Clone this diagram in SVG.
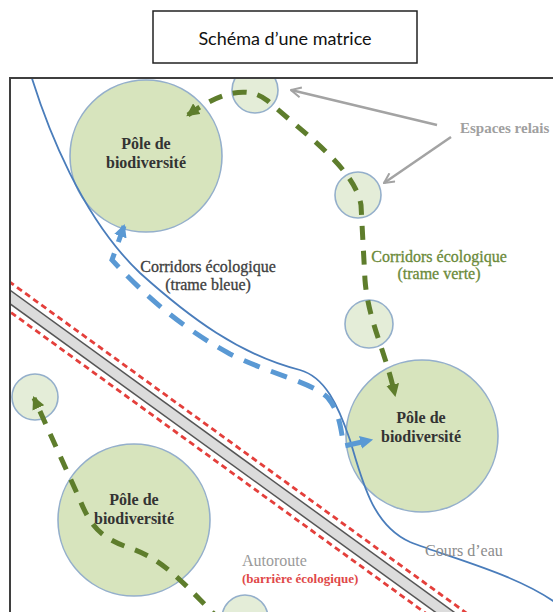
<svg xmlns="http://www.w3.org/2000/svg" width="553" height="612" viewBox="0 0 553 612">
  <style>
    .pole { fill: #d7e4bd; stroke: #94afcb; stroke-width: 1.6; }
    .relais { fill: #e4edd8; stroke: #94afcb; stroke-width: 1.6; }
    .pole-label { font-family: "Liberation Serif", serif; font-weight: bold; font-size: 16px; fill: #333333; text-anchor: middle; }
    .serif { font-family: "Liberation Serif", serif; }
    .trame-verte { fill: none; stroke: #5e7d2c; stroke-width: 5; stroke-dasharray: 14 11; }
    .trame-bleue { fill: none; stroke: #5a99d4; stroke-width: 5; stroke-dasharray: 17 12; }
    .river { fill: none; stroke: #4a7dbb; stroke-width: 1.8; }
    .pointer { fill: none; stroke: #a3a3a3; stroke-width: 2.5; }
    .road-edge { stroke: #555555; stroke-width: 1.5; }
    .barrier { stroke: #e43f3b; stroke-width: 2.8; stroke-dasharray: 6 4; }
  </style>
  <defs>
    <clipPath id="map">
      <rect x="11" y="79" width="560" height="560"/>
    </clipPath>
    <marker id="arrow-green" viewBox="0 0 12 12" refX="10" refY="6" markerWidth="13" markerHeight="13" markerUnits="userSpaceOnUse" orient="auto-start-reverse">
      <path d="M0,0 L12,6 L0,12 z" fill="#5e7d2c"/>
    </marker>
    <marker id="arrow-blue" viewBox="0 0 12 12" refX="10" refY="6" markerWidth="13" markerHeight="13" markerUnits="userSpaceOnUse" orient="auto-start-reverse">
      <path d="M0,0 L12,6 L0,12 z" fill="#5a99d4"/>
    </marker>
    <marker id="arrow-gray" viewBox="0 0 12 12" refX="11" refY="6" markerWidth="12" markerHeight="12" markerUnits="userSpaceOnUse" orient="auto">
      <path d="M1,1 L11,6 L1,11" fill="none" stroke="#a3a3a3" stroke-width="2"/>
    </marker>
  </defs>

  <rect width="553" height="612" fill="#ffffff"/>

  <!-- Title box -->
  <g id="title">
    <rect x="153" y="11" width="264" height="52" fill="#ffffff" stroke="#222222" stroke-width="1.5"/>
    <text x="285" y="45" font-family="Lato, 'Liberation Sans', sans-serif" font-size="18" fill="#111111" text-anchor="middle">Schéma d’une matrice</text>
  </g>

  <g clip-path="url(#map)">
    <!-- Motorway -->
    <g id="autoroute" transform="translate(10 297) rotate(35.94)">
      <rect x="-30" y="-5.5" width="760" height="11" fill="#dcdcdc"/>
      <line class="road-edge" x1="-30" y1="-5.5" x2="730" y2="-5.5"/>
      <line class="road-edge" x1="-30" y1="5.5" x2="730" y2="5.5"/>
      <line class="barrier" x1="-30" y1="-12" x2="730" y2="-12"/>
      <line class="barrier" x1="-30" y1="12" x2="730" y2="12"/>
    </g>

    <!-- Biodiversity poles -->
    <g id="pole-nord">
      <circle class="pole" cx="146" cy="156" r="76"/>
      <text class="pole-label" x="146" y="149">Pôle de</text>
      <text class="pole-label" x="146" y="168">biodiversité</text>
    </g>
    <g id="pole-est">
      <circle class="pole" cx="422" cy="436" r="76"/>
      <text class="pole-label" x="421" y="423">Pôle de</text>
      <text class="pole-label" x="421" y="442">biodiversité</text>
    </g>
    <g id="pole-sud">
      <circle class="pole" cx="134" cy="520" r="76"/>
      <text class="pole-label" x="134" y="505">Pôle de</text>
      <text class="pole-label" x="134" y="524">biodiversité</text>
    </g>

    <!-- Stepping-stone spaces -->
    <g id="relais-1"><circle class="relais" cx="255" cy="90" r="23"/></g>
    <g id="relais-2"><circle class="relais" cx="358" cy="195" r="23"/></g>
    <g id="relais-3"><circle class="relais" cx="369" cy="324" r="24"/></g>
    <g id="relais-4"><circle class="relais" cx="35" cy="397" r="23"/></g>
    <g id="relais-5"><circle class="relais" cx="245" cy="618" r="23"/></g>

    <!-- Watercourse -->
    <g id="cours-eau">
      <path class="river" d="M30,72 C47,128 82,218 140,273 C190,318 240,355 300,370 C325,377 338,405 350,440 C362,480 372,525 410,542 C450,558 520,575 560,606"/>
    </g>

    <!-- Corridors -->
    <g id="connectors">
      <path class="trame-bleue" d="M124,226 L112,260 C140,290 175,324 230,354 C270,374 312,382 328,398 C340,412 341,432 344,446 L371,440" marker-start="url(#arrow-blue)" marker-end="url(#arrow-blue)"/>
      <path class="trame-verte" d="M188,115 Q240,78 268,101 C310,138 355,170 361,205 L365,280 C368,320 385,350 395,395" marker-start="url(#arrow-green)" marker-end="url(#arrow-green)"/>
      <path class="trame-verte" d="M222,622 C185,585 165,560 130,548 C100,538 90,525 80,500 L34,398" marker-end="url(#arrow-green)"/>
      <line class="pointer" x1="437" y1="125" x2="291" y2="90" marker-end="url(#arrow-gray)"/>
      <line class="pointer" x1="451" y1="137" x2="384" y2="183" marker-end="url(#arrow-gray)"/>
    </g>
  </g>

  <!-- Map frame -->
  <rect x="10" y="78" width="570" height="570" fill="none" stroke="#3f3f3f" stroke-width="2"/>

  <!-- Labels -->
  <g id="labels">
    <text class="serif" x="460" y="133" font-size="15" font-weight="bold" fill="#a0a0a0">Espaces relais</text>
    <text class="serif" x="208" y="272" font-size="16" fill="#404040" stroke="#404040" stroke-width="0.3" text-anchor="middle">Corridors écologique</text>
    <text class="serif" x="208" y="290" font-size="16" fill="#404040" stroke="#404040" stroke-width="0.3" text-anchor="middle">(trame bleue)</text>
    <text class="serif" x="439" y="262" font-size="16" fill="#6b8a3a" stroke="#6b8a3a" stroke-width="0.3" text-anchor="middle">Corridors écologique</text>
    <text class="serif" x="439" y="279" font-size="16" fill="#6b8a3a" stroke="#6b8a3a" stroke-width="0.3" text-anchor="middle">(trame verte)</text>
    <text class="serif" x="425" y="556" font-size="16" fill="#8c8c8c">Cours d’eau</text>
    <text class="serif" x="242" y="566" font-size="16" fill="#9a9a9a">Autoroute</text>
    <text class="serif" x="242" y="583" font-size="13" font-weight="bold" fill="#e04848">(barrière écologique)</text>
  </g>
</svg>
